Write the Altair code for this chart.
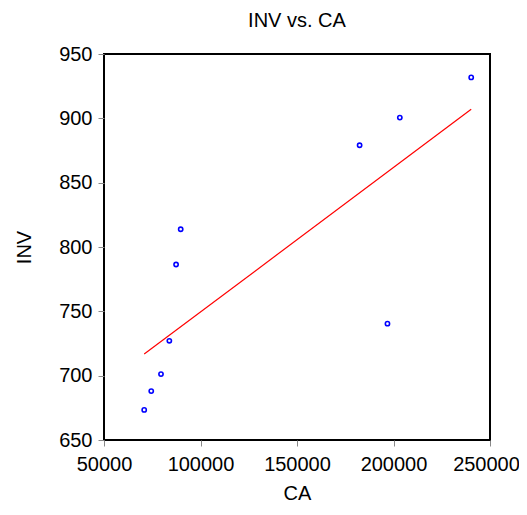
import altair as alt
import pandas as pd

ca = [70833, 74479, 79531, 83854, 87344, 89740, 182440, 196870, 203280, 240260]
inv = [673.4, 688.0, 701.2, 727.1, 786.4, 813.8, 879.1, 740.4, 900.6, 931.8]
x_ticks = [50000, 100000, 150000, 200000, 250000]
y_ticks = [650, 700, 750, 800, 850, 900, 950]

df = pd.DataFrame({"CA": ca, "INV": inv})

FONT = "Liberation Sans"

xenc = alt.X("CA:Q", scale=alt.Scale(domain=[50000, 250000], nice=False, zero=False),
             axis=alt.Axis(values=x_ticks, format="d", title="CA", grid=False,
                           labelFontSize=20, titleFontSize=20, titleFontWeight="normal",
                           labelFont=FONT, titleFont=FONT, labelColor="black", titleColor="black",
                           tickColor="#888888", tickSize=6, labelPadding=8, titlePadding=9,
                           labelOffset={"condition": {"test": "datum.value == 250000", "value": -4}, "value": 0},
                           domain=False, labelFlush=False))
yenc = alt.Y("INV:Q", scale=alt.Scale(domain=[650, 950], nice=False, zero=False),
             axis=alt.Axis(values=y_ticks, title="INV", grid=False,
                           labelFontSize=20, titleFontSize=20, titleFontWeight="normal",
                           labelFont=FONT, titleFont=FONT, labelColor="black", titleColor="black",
                           tickColor="#888888", tickSize=6, labelPadding=6, titlePadding=24,
                           domain=False, labelFlush=False))

points = alt.Chart(df).mark_point(shape="circle", filled=False, color="#0000FF",
                                  size=18, strokeWidth=1.6, opacity=1).encode(x=xenc, y=yenc)

line = alt.Chart(df).mark_line(color="#FF0000", strokeWidth=1.2).transform_regression(
    "CA", "INV").encode(x="CA:Q", y="INV:Q")

chart = alt.layer(points, line).properties(
    width=386, height=386,
    title=alt.TitleParams("INV vs. CA", font=FONT, fontSize=20, fontWeight="normal",
                          color="black", offset=13),
    autosize=alt.AutoSizeParams(type="none"),
    padding={"left": 96, "top": 46, "right": 29, "bottom": 63},
    background="white",
).configure_view(stroke="black", strokeWidth=2)

chart.save("out.html", embed_options={"renderer": "svg", "actions": False})
